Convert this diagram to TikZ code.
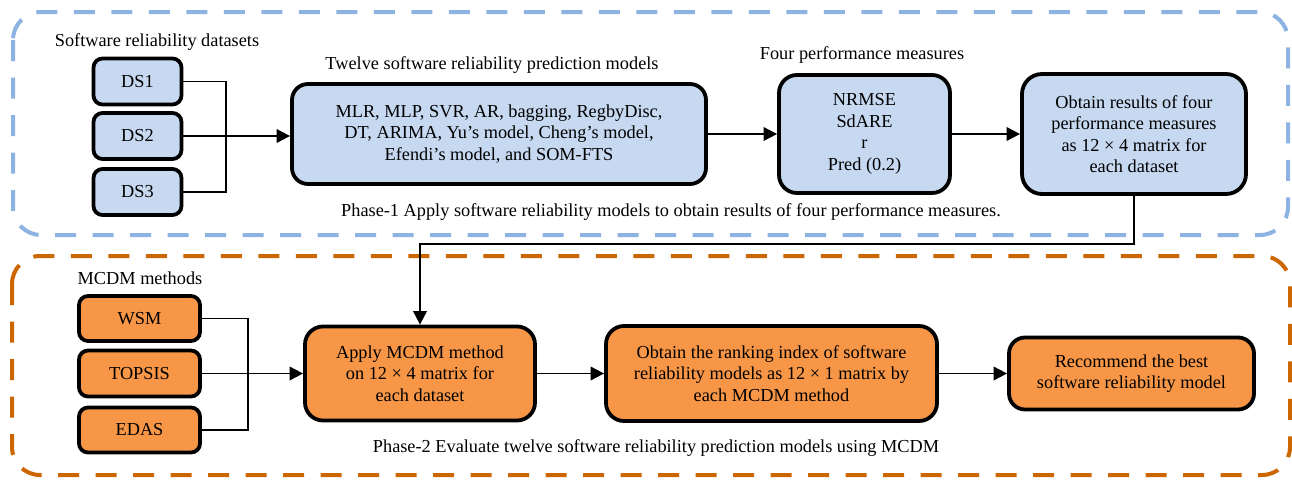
\documentclass[tikz,border=0pt]{standalone}
\usepackage{fontspec}
\setmainfont{Liberation Serif}
\usetikzlibrary{arrows.meta}
\definecolor{bfill}{HTML}{C6D9F1}
\definecolor{bdash}{HTML}{8DB3E2}
\definecolor{ofill}{HTML}{F79646}
\definecolor{odash}{HTML}{CC6600}
\begin{document}
\begin{tikzpicture}[x=1pt,y=-1pt,
  every node/.style={font=\fontsize{18.3}{21.5}\selectfont, align=center, inner sep=0pt},
  bbox/.style={draw, line width=3.8pt, fill=bfill},
  obox/.style={draw, line width=3.8pt, fill=ofill},
  conn/.style={line width=1.9pt},
  arr/.style={conn, -{Triangle[length=13.5pt,width=13.5pt]}},
  phaseone/.style={draw=bdash, line width=4pt, dash pattern=on 21pt off 16.5pt, rounded corners=28pt},
  phasetwo/.style={draw=odash, line width=4pt, dash pattern=on 21pt off 16.5pt, rounded corners=28pt},
  lbl/.style={}
]
\useasboundingbox (0,0) rectangle (1292,479);

% phase frames
\draw[phaseone] (13,12) rectangle (1288,235);
\draw[phasetwo] (12,256) rectangle (1290,475);

% Phase 1
\node[lbl] (lds) at (157,42) {Software reliability datasets};
\node[bbox, rounded corners=9pt, minimum width=88pt, minimum height=46pt] (ds1) at (137.5,81.5) {DS1};
\node[bbox, rounded corners=9pt, minimum width=88pt, minimum height=46pt] (ds2) at (137.5,136) {DS2};
\node[bbox, rounded corners=9pt, minimum width=88pt, minimum height=46pt] (ds3) at (137.5,192) {DS3};

\node[lbl] (lmod) at (492,65) {Twelve software reliability prediction models};
\node[bbox, rounded corners=16pt, minimum width=414pt, minimum height=100pt] (models) at (499,134)
  {MLR, MLP, SVR, AR, bagging, RegbyDisc,\\DT, ARIMA, Yu's model, Cheng's model,\\Efendi's model, and SOM-FTS};

\node[lbl] (lmeas) at (862,55) {Four performance measures};
\node[bbox, rounded corners=18pt, minimum width=171pt, minimum height=118pt] (meas) at (864.5,134)
  {NRMSE\\SdARE\\r\\Pred (0.2)};

\node[bbox, rounded corners=20pt, minimum width=224pt, minimum height=120pt] (obtain) at (1134,134)
  {Obtain results of four\\performance measures\\as 12 × 4 matrix for\\each dataset};

\node[lbl] (lp1) at (671,212) {Phase-1 Apply software reliability models to obtain results of four performance measures.};

\coordinate (bus1) at (226,0);
\draw[conn] (ds1.east) -| (bus1 |- ds3.east) -- (ds3.east);
\draw[arr] (ds2.east) -- (ds2.east -| models.west);
\draw[arr] (models.east) -- (meas.west);
\draw[arr] (meas.east) -- (obtain.west);

% Phase 2
\node[lbl] (lmcdm) at (140,278) {MCDM methods};
\node[obox, rounded corners=9pt, minimum width=121pt, minimum height=45pt] (wsm) at (139.5,318.5) {WSM};
\node[obox, rounded corners=9pt, minimum width=121pt, minimum height=46pt] (topsis) at (139.5,373.5) {TOPSIS};
\node[obox, rounded corners=9pt, minimum width=121pt, minimum height=45pt] (edas) at (139.5,430) {EDAS};

\node[obox, rounded corners=18pt, minimum width=230pt, minimum height=94pt] (apply) at (420,373.5)
  {Apply MCDM method\\on 12 × 4 matrix for\\each dataset};
\node[obox, rounded corners=18pt, minimum width=331pt, minimum height=95pt] (rank) at (771.5,373.5)
  {Obtain the ranking index of software\\reliability models as 12 × 1 matrix by\\each MCDM method};
\node[obox, rounded corners=16pt, minimum width=245pt, minimum height=72pt] (rec) at (1131.5,373.5)
  {Recommend the best\\software reliability model};

\node[lbl] (lp2) at (656,448) {Phase-2 Evaluate twelve software reliability prediction models using MCDM};

\coordinate (bus2) at (248,0);
\draw[conn] (wsm.east) -| (bus2 |- edas.east) -- (edas.east);
\draw[arr] (topsis.east) -- (topsis.east -| apply.west);
\draw[arr] (apply.east) -- (rank.west);
\draw[arr] (rank.east) -- (rec.west);

\coordinate (turn) at (800,244);
\draw[arr] (obtain.south) |- (turn) -| (apply.north);
\end{tikzpicture}
\end{document}
